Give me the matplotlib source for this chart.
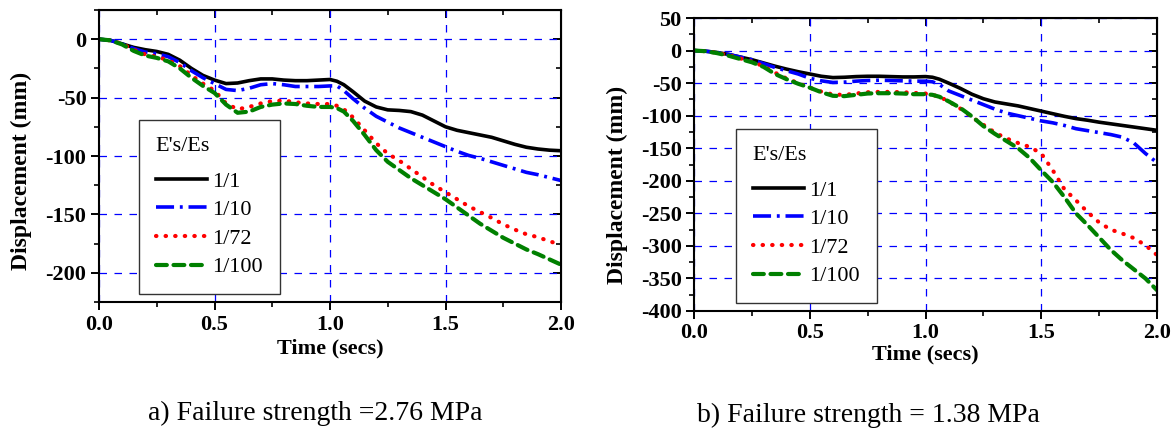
import matplotlib
matplotlib.use("Agg")
import matplotlib.pyplot as plt
from matplotlib.ticker import MultipleLocator, FormatStrFormatter

plt.rcParams['font.family'] = ['Liberation Serif', 'DejaVu Serif']
plt.rcParams['axes.unicode_minus'] = False

# time axis (secs)
t = [0, 0.05, 0.1, 0.15, 0.2, 0.25, 0.3, 0.35, 0.4, 0.45, 0.5,
     0.55, 0.6, 0.65, 0.7, 0.75, 0.8, 0.85, 0.9, 0.95, 1.0,
     1.03, 1.06, 1.1, 1.15, 1.2, 1.25, 1.3, 1.35, 1.4, 1.45, 1.5,
     1.55, 1.6, 1.65, 1.7, 1.75, 1.8, 1.85, 1.9, 1.95, 2.0]

labels = ['1/1', '1/10', '1/72', '1/100']

# a) failure strength 2.76 MPa
a_11 = [0, -1, -4, -7, -9, -10.5, -13, -18, -25, -31, -35,
        -38, -37.5, -35.5, -34, -34, -35, -35.5, -35.5, -35, -34.5,
        -36, -39, -45, -53, -58, -60.5, -61, -62, -65, -70, -75,
        -78, -80, -82, -84, -87, -90, -92.5, -94, -95, -95.5]
a_110 = [0, -1, -4, -8, -11, -12.5, -15, -20, -27, -33, -38,
         -43, -44, -42, -39, -38, -39, -40.5, -40.5, -40.5, -40,
         -40, -44, -51, -59, -66, -71, -76, -80, -84, -88, -92,
         -96, -99.5, -102, -105, -108, -111, -114, -116, -118.5, -121]
a_172 = [0, -1, -4, -9, -13, -15, -18, -23, -31, -38, -44,
         -55, -60, -58, -55, -53, -52.5, -54, -55, -55.5, -55.5,
         -57, -60, -67, -78, -89, -98, -104, -111, -118, -125, -131,
         -137, -143, -148, -153, -158.5, -163, -167, -169.5, -173, -176]
a_1100 = [0, -1, -4.5, -10, -14, -16, -19, -25, -33, -40, -46,
          -56, -63, -62, -58, -56, -55, -55.5, -57, -58, -58,
          -59, -62, -70, -82, -95, -105, -112, -119, -125, -131, -137,
          -144, -151, -158, -164, -170, -175, -180, -184, -188.5, -193]

# b) failure strength 1.38 MPa
b_11 = [0, -1, -3, -6, -10, -14, -19, -24, -28.5, -32.5, -36,
        -39.5, -41.5, -41, -40, -39.5, -39.5, -40, -40.5, -40.5, -40,
        -41, -44, -50, -58, -67, -74, -79, -82, -85, -89, -93,
        -97, -101, -104.5, -107, -110, -112.5, -115, -117.5, -120, -122.5]
b_110 = [0, -1, -3, -6, -10, -14, -20, -26, -31, -36, -42.5,
         -46.5, -49, -48.5, -47, -46, -45.5, -46, -46.5, -47, -47,
         -48, -52, -62, -69, -76, -83, -90, -96, -100, -104, -108,
         -111, -115, -120, -123, -126, -129, -133, -142, -158, -172]
b_172 = [0, -1, -3.5, -7, -12, -17, -24, -34, -43, -50, -57,
         -63, -67.5, -68, -66, -64, -63.5, -63.5, -64, -65, -66,
         -68, -71, -78, -89, -102, -114, -126, -135, -142, -148, -158,
         -184, -213, -230, -248, -264, -275, -281, -288, -299, -314]
b_1100 = [0, -1, -4, -8, -13, -18, -25, -36, -44, -51, -57,
          -64, -69.5, -70, -68, -66, -65.5, -65.5, -66, -67, -67,
          -68, -71, -78, -88, -101, -116, -128, -139, -150, -165, -184,
          -202, -225, -250, -268, -287, -306, -322, -336, -350, -368]

styles = [
    dict(color='black', linestyle='-', lw=2.6),
    dict(color='blue', linestyle=(0, (5, 1.6, 0.8, 1.6)), lw=2.6),
    dict(color='red', linestyle=(0, (0.1, 2.2)), lw=3.0, dash_capstyle='round'),
    dict(color='green', linestyle=(0, (2.6, 1.6)), lw=3.0, dash_capstyle='round'),
]

fig = plt.figure(figsize=(11.76, 4.30), dpi=100)
W, H = 1176, 430


def px_axes(x0, y0, x1, y1):
    return fig.add_axes([x0 / W, 1 - y1 / H, (x1 - x0) / W, (y1 - y0) / H])


def setup(ax, ylim, leg_x, leg_y):
    ax.set_xlim(0, 2.0)
    ax.set_ylim(*ylim)
    ax.xaxis.set_major_locator(MultipleLocator(0.5))
    ax.xaxis.set_minor_locator(MultipleLocator(0.25))
    ax.yaxis.set_major_locator(MultipleLocator(50))
    ax.yaxis.set_minor_locator(MultipleLocator(25))
    ax.xaxis.set_major_formatter(FormatStrFormatter('%.1f'))
    ax.grid(True, which='major', color='blue', linestyle=(0, (6, 6)), lw=0.9)
    for s in ax.spines.values():
        s.set_linewidth(1.5)
    ax.tick_params(which='major', direction='out', length=6, width=1.4,
                   labelsize=16, pad=3)
    ax.tick_params(which='minor', direction='out', length=3.5, width=1.2)
    for lab in ax.get_xticklabels() + ax.get_yticklabels():
        lab.set_fontweight('bold')
    # mirrored ticks pointing inwards on top and right
    top = ax.secondary_xaxis('top')
    top.xaxis.set_major_locator(MultipleLocator(0.5))
    top.xaxis.set_minor_locator(MultipleLocator(0.25))
    top.tick_params(which='major', direction='in', length=6, width=1.4, labeltop=False)
    top.tick_params(which='minor', direction='in', length=3.5, width=1.2)
    right = ax.secondary_yaxis('right')
    right.yaxis.set_major_locator(MultipleLocator(50))
    right.yaxis.set_minor_locator(MultipleLocator(25))
    right.tick_params(which='major', direction='in', length=6, width=1.4, labelright=False)
    right.tick_params(which='minor', direction='in', length=3.5, width=1.2)
    leg = ax.legend(title="E's/Es", loc='lower left', bbox_to_anchor=(leg_x, leg_y),
                    borderaxespad=0, fontsize=16, title_fontsize=16,
                    handlelength=2.3, handletextpad=0.25, labelspacing=0.36,
                    borderpad=0.75, frameon=True, fancybox=False, framealpha=1,
                    edgecolor='#333333', alignment='left')
    leg._legend_box.sep = 11
    leg.get_frame().set_linewidth(1.0)


# left panel
ax1 = px_axes(99, 10, 561, 302)
for y, lab, st in zip([a_11, a_110, a_172, a_1100], labels, styles):
    ax1.plot(t, y, label=lab, **st)
ax1.set_yticks([0, -50, -100, -150, -200])
setup(ax1, (-225, 25), (139 - 99) / 462, (302 - 294) / 292)

# right panel
ax2 = px_axes(694, 18, 1157, 311)
for y, lab, st in zip([b_11, b_110, b_172, b_1100], labels, styles):
    ax2.plot(t, y, label=lab, **st)
setup(ax2, (-400, 50), (736 - 694) / 463, (311 - 303) / 293)

# axis labels
fig.text(330 / W, 1 - 348 / H, 'Time (secs)', ha='center', va='center',
         fontsize=16, fontweight='bold')
fig.text(925 / W, 1 - 354 / H, 'Time (secs)', ha='center', va='center',
         fontsize=16, fontweight='bold')
fig.text(21 / W, 1 - 171 / H, 'Displacement (mm)', ha='center', va='center',
         rotation=90, fontsize=17, fontweight='bold')
fig.text(617 / W, 1 - 185 / H, 'Displacement (mm)', ha='center', va='center',
         rotation=90, fontsize=17, fontweight='bold')

# captions
fig.text(148 / W, 1 - 413 / H, 'a) Failure strength =2.76 MPa', ha='left', va='center',
         fontsize=20)
fig.text(697 / W, 1 - 415 / H, 'b) Failure strength = 1.38 MPa', ha='left', va='center',
         fontsize=20)

fig.savefig('out.png', dpi=100)
